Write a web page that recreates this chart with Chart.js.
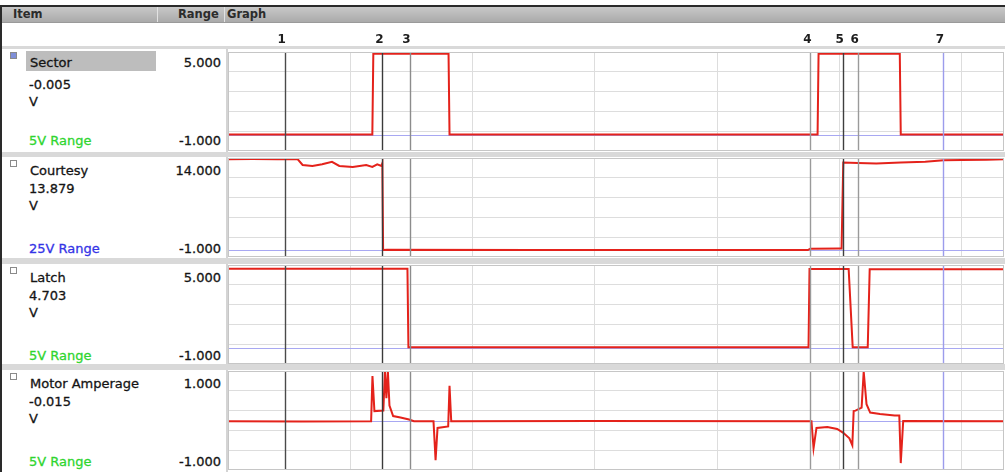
<!DOCTYPE html>
<html lang="en">
<head>
<meta charset="UTF-8">
<title>Scope capture - Sector / Courtesy / Latch / Motor Amperage</title>
<script src="https://cdn.jsdelivr.net/npm/chart.js@4.4.0/dist/chart.umd.min.js"></script>
<style>
  body { margin: 0; background: #fff; font-family: "DejaVu Sans", Verdana, sans-serif; }
  #wrap { position: relative; width: 1005px; height: 472px; overflow: hidden; background: #d9d9d9; }
  .abs { position: absolute; }
  .txt { position: absolute; line-height: 1; white-space: nowrap; transform: translateY(-50%); font-size: 13px; color: #141414;
         -webkit-text-stroke: 0.3px currentColor; }
  .rt { text-align: right; transform: translate(-100%, -50%); }
  .hdr { position: absolute; left: 2px; top: 7px; width: 1003px; height: 15px;
         background: linear-gradient(#c8c8c8, #aaaaaa); border-bottom: 1px solid #9a9a9a; }
  .htxt { position: absolute; top: 15px; transform: translateY(-50%); font-size: 11.5px; font-weight: bold; color: #2c2c2c; line-height: 1; }
  .row { position: absolute; left: 2px; width: 1003px; background: #fff; }
  .chk { position: absolute; width: 5px; height: 5px; border: 1px solid #8a8a8a; background: #fff; }
  canvas { position: absolute; }
</style>
</head>
<body>
<div id="wrap">
  <div class="abs" style="left:0;top:0;width:1005px;height:5px;background:#fff"></div>
  <div class="abs" style="left:0;top:5px;width:1005px;height:2px;background:#2a2a2a"></div>
  <div class="abs" style="left:0;top:5px;width:2px;height:467px;background:#2a2a2a"></div>
  <div class="hdr"></div>
  <div class="abs" style="left:157px;top:7px;width:1px;height:15px;background:#e2e2e2"></div>
  <div class="abs" style="left:224px;top:7px;width:1px;height:15px;background:#e2e2e2"></div>
  <div class="htxt" style="left:13px">Item</div>
  <div class="htxt" style="left:178px">Range</div>
  <div class="htxt" style="left:227px">Graph</div>
  <div class="row" style="top:23px;height:23px"></div>
  <div id="rows"></div>
</div>

<script>
  // time axis in seconds (1 grid division = 1 s)
  var timeMax = 6.344;

  var itemNames = ["Sector", "Courtesy", "Latch", "Motor Amperage"];
  var readings = ["-0.005", "13.879", "4.703", "-0.015"];
  var units = ["V", "V", "V", "V"];
  var rangeNames = ["5V Range", "25V Range", "5V Range", "5V Range"];
  var rangeMin = [-1, -1, -1, -1];
  var rangeMax = [5, 14, 5, 1];

  var cursorNames = ["1", "2", "3", "4", "5", "6", "7"];
  var cursorTimes = [0.463, 1.262, 1.484, 4.762, 5.025, 5.148, 5.844];

  var timeSector = [0, 1.180, 1.188, 1.803, 1.811, 4.820, 4.828, 5.492, 5.500, 6.344];
  var sector     = [-0.005, -0.005, 4.90, 4.90, -0.005, -0.005, 4.90, 4.90, -0.005, -0.005];

  var timeCourtesy = [0, 0.20, 0.40, 0.57, 0.61, 0.69, 0.77, 0.85, 0.91, 1.02, 1.13, 1.18, 1.22, 1.254, 1.262, 1.268,
                      1.30, 2.50, 4.00, 4.740, 4.760, 5.000, 5.016, 5.030, 5.150, 5.300, 5.500, 5.700, 5.850, 6.000, 6.200, 6.344];
  var courtesy = [13.82, 13.85, 13.80, 13.80, 12.95, 12.78, 13.04, 13.43, 12.80, 12.62, 12.93, 12.65, 13.05, 12.80, 13.20, 0.05,
                  0.08, 0.06, 0.05, 0.05, 0.25, 0.30, 0.30, 13.30, 13.25, 13.15, 13.30, 13.45, 13.65, 13.70, 13.75, 13.80];

  var timeLatch = [0, 1.467, 1.475, 4.746, 4.754, 5.074, 5.107, 5.230, 5.246, 6.344];
  var latch     = [4.78, 4.78, 0.02, 0.02, 4.76, 4.76, 0.02, 0.02, 4.75, 4.75];

  var timeMotor = [0, 0.60, 1.170, 1.181, 1.197, 1.270, 1.283, 1.295, 1.307, 1.320,
                   1.350, 1.410, 1.480, 1.520, 1.680, 1.697, 1.713, 1.800, 1.811, 1.825,
                   3.000, 4.770, 4.787, 4.811, 4.900, 4.980, 5.030, 5.080, 5.104, 5.115,
                   5.130, 5.180, 5.197, 5.220, 5.250, 5.330, 5.450, 5.488, 5.500, 5.520, 6.344];
  var motor = [-0.015, -0.02, -0.015, 0.90, 0.19, 0.20, 1.00, 0.45, 1.00, 0.30,
               0.09, 0.06, 0.02, -0.015, -0.015, -0.80, -0.15, -0.12, 0.70, -0.015,
               -0.01, -0.015, -0.56, -0.15, -0.13, -0.17, -0.25, -0.36, -0.50, 0.19,
               0.20, 0.26, 0.99, 0.33, 0.16, 0.13, 0.10, 0.10, -0.86, -0.01, -0.015];

  var seriesTimes = [timeSector, timeCourtesy, timeLatch, timeMotor];
  var seriesValues = [sector, courtesy, latch, motor];

  // layout / style (not data)
  var cursorColors = ["#4a4a4a", "#3a3a3a", "#8c8c8c", "#9a9a9a", "#3e3e3e", "#9a9a9a", "#9c9cec"];
  var rowTops = [49, 157, 264, 370];
  var rowHeights = [103, 101, 100, 102];
  var plotTops = [52, 158, 265, 371];
  var plotH = 99;
  var rangeColors = ["#2fd52f", "#3434e6", "#2fd52f", "#2fd52f"];

  var rowsEl = document.getElementById('rows');
  var html = '';
  for (var i = 0; i < 4; i++) {
    var t = rowTops[i];
    html += '<div class="row" style="top:' + t + 'px;height:' + rowHeights[i] + 'px"></div>';
    html += '<div class="abs" style="left:226px;top:' + t + 'px;width:2px;height:' + rowHeights[i] + 'px;background:#d4d4d4"></div>';
    html += '<div class="chk" style="left:10px;top:' + (t + 3) + 'px;' + (i === 0 ? 'background:#7f8fd8' : '') + '"></div>';
    if (i === 0) {
      html += '<div class="abs" style="left:26px;top:' + (t + 2) + 'px;width:130px;height:20px;background:#bdbdbd"></div>';
    }
    var nameY = t + 13;
    var readY = t + (i === 0 ? 35 : 31);
    var unitY = t + (i === 0 ? 52 : 48);
    var rangeY = t + 91;
    html += '<div class="txt" style="left:30px;top:' + nameY + 'px">' + itemNames[i] + '</div>';
    html += '<div class="txt" style="left:29px;top:' + readY + 'px">' + readings[i] + '</div>';
    html += '<div class="txt" style="left:29px;top:' + unitY + 'px">' + units[i] + '</div>';
    html += '<div class="txt" style="left:29px;top:' + rangeY + 'px;color:' + rangeColors[i] + '">' + rangeNames[i] + '</div>';
    html += '<div class="txt rt" style="left:221px;top:' + nameY + 'px">' + rangeMax[i].toFixed(3) + '</div>';
    html += '<div class="txt rt" style="left:221px;top:' + rangeY + 'px">' + rangeMin[i].toFixed(3) + '</div>';
  }
  rowsEl.innerHTML = html;

  // cursors, zero reference line, frame and cursor numbers
  var scopePlugin = {
    id: 'scope',
    beforeDatasetsDraw: function(chart) {
      var ctx = chart.ctx, a = chart.chartArea;
      var y0 = Math.round(chart.scales.y.getPixelForValue(0)) + 0.5;
      ctx.save();
      ctx.strokeStyle = '#a8a8f2';
      ctx.lineWidth = 1;
      ctx.beginPath();
      ctx.moveTo(a.left, y0);
      ctx.lineTo(a.right, y0);
      ctx.stroke();
      ctx.restore();
    },
    afterDatasetsDraw: function(chart, args, opts) {
      var ctx = chart.ctx, a = chart.chartArea, x = chart.scales.x;
      ctx.save();
      for (var k = 0; k < cursorTimes.length; k++) {
        var px = Math.round(x.getPixelForValue(cursorTimes[k])) + 0.5;
        ctx.strokeStyle = cursorColors[k];
        ctx.lineWidth = 1.4;
        ctx.beginPath();
        ctx.moveTo(px, a.top);
        ctx.lineTo(px, a.bottom);
        ctx.stroke();
      }
      ctx.strokeStyle = '#c6c6c6';
      ctx.lineWidth = 1;
      ctx.strokeRect(a.left + 0.5, a.top + 0.5, a.width - 1, a.height - 1);
      if (opts.labels) {
        ctx.fillStyle = '#1e1e1e';
        ctx.font = 'bold 12px "DejaVu Sans"';
        ctx.textAlign = 'center';
        ctx.textBaseline = 'middle';
        for (var j = 0; j < cursorNames.length; j++) {
          ctx.fillText(cursorNames[j], x.getPixelForValue(cursorTimes[j]) - 3, a.top - 12);
        }
      }
      ctx.restore();
    }
  };

  var wrap = document.getElementById('wrap');
  for (var p = 0; p < 4; p++) {
    var padTop = p === 0 ? 30 : 0;
    var cv = document.createElement('canvas');
    cv.width = 776;
    cv.height = plotH + padTop;
    cv.style.left = '228px';
    cv.style.top = (plotTops[p] - padTop) + 'px';
    wrap.appendChild(cv);

    var pts = seriesTimes[p].map(function(tt, idx) { return { x: tt, y: seriesValues[p][idx] }; });

    new Chart(cv.getContext('2d'), {
      type: 'line',
      data: {
        datasets: [{
          data: pts,
          borderColor: '#e4221b',
          borderWidth: 2,
          pointRadius: 0,
          tension: 0,
          fill: false
        }]
      },
      options: {
        responsive: false,
        animation: false,
        events: [],
        layout: { padding: { top: padTop, left: 0, right: 0, bottom: 0 } },
        plugins: {
          legend: { display: false },
          tooltip: { enabled: false },
          scope: { labels: p === 0 }
        },
        scales: {
          x: {
            type: 'linear',
            min: 0,
            max: timeMax,
            ticks: { display: false, stepSize: 1, includeBounds: false },
            grid: { color: '#dddddd', drawTicks: false },
            border: { display: false }
          },
          y: {
            min: rangeMin[p],
            max: rangeMax[p],
            ticks: { display: false, count: 6 },
            grid: { color: '#dddddd', drawTicks: false },
            border: { display: false }
          }
        }
      },
      plugins: [scopePlugin]
    });
  }

  // band between the cursor row and the first panel
  var band = document.createElement('div');
  band.className = 'abs';
  band.style.cssText = 'left:2px;top:46px;width:1003px;height:3px;background:#d9d9d9;z-index:2';
  wrap.appendChild(band);
</script>
</body>
</html>
